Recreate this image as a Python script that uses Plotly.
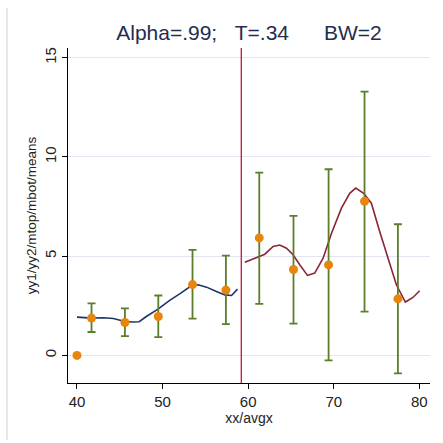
import plotly.graph_objects as go

# ---- data ----
xx1 = [40.0, 41.75, 43.1, 44.25, 45.6, 46.57, 47.27, 48.1, 49.47, 50.83, 52.0, 53.4, 54.16, 55.14, 56.3, 57.28, 58.06, 58.76]
yy1 = [1.93, 1.88, 1.90, 1.86, 1.71, 1.68, 1.70, 1.96, 2.33, 2.77, 3.10, 3.52, 3.56, 3.44, 3.22, 3.05, 3.02, 3.34]

xx2 = [59.61, 60.98, 61.95, 62.92, 63.7, 64.48, 65.25, 66.03, 66.93, 67.78, 68.76, 69.74, 70.9, 71.87, 72.57, 73.5, 74.4, 75.37, 76.34, 77.32, 78.37, 79.26, 80.04]
yy2 = [4.70, 4.93, 5.10, 5.49, 5.56, 5.40, 5.07, 4.57, 4.03, 4.15, 4.90, 6.16, 7.42, 8.17, 8.43, 8.17, 7.67, 6.24, 4.90, 3.56, 2.69, 2.92, 3.26]

avgx = [40.0, 41.7, 45.6, 49.5, 53.5, 57.4, 61.3, 65.3, 69.4, 73.6, 77.5]
means = [0.0, 1.88, 1.66, 1.96, 3.57, 3.29, 5.92, 4.33, 4.56, 7.77, 2.85]
# interval bounds for bins (all points except the first)
mtop = [2.62, 2.37, 3.02, 5.32, 5.03, 9.21, 7.03, 9.38, 13.29, 6.61]
mbot = [1.18, 0.97, 0.92, 1.85, 1.58, 2.60, 1.60, -0.25, 2.21, -0.91]

threshold = 59.2
title_text = "Alpha=.99;\u00a0\u00a0\u00a0T=.34\u00a0\u00a0\u00a0\u00a0\u00a0\u00a0BW=2"

# ---- figure ----
NAVY = "#1a3668"
MAROON = "#8b2535"
GREEN = "#5a7e2c"
ORANGE = "#e8850c"
FONT = "Liberation Sans, Arial, sans-serif"

xb = avgx[1:]
mb = means[1:]
plus = [t - m for t, m in zip(mtop, mb)]
minus = [m - b for m, b in zip(mb, mbot)]

fig = go.Figure()
fig.add_trace(go.Scatter(x=xx1, y=yy1, mode="lines", line=dict(color=NAVY, width=1.6), showlegend=False))
fig.add_trace(go.Scatter(x=xx2, y=yy2, mode="lines", line=dict(color=MAROON, width=1.6), showlegend=False))
fig.add_trace(go.Scatter(
    x=xb, y=mb, mode="markers",
    marker=dict(size=1, color="rgba(0,0,0,0)"),
    error_y=dict(type="data", symmetric=False, array=plus, arrayminus=minus,
                 color=GREEN, thickness=1.8, width=4),
    showlegend=False))
fig.add_trace(go.Scatter(x=avgx, y=means, mode="markers",
                         marker=dict(size=9, color=ORANGE), showlegend=False))

fig.add_shape(type="line", xref="x", yref="paper", x0=threshold, x1=threshold, y0=0, y1=1,
              line=dict(color="#d0103a", width=1.3))
# faint outer frame line on the left
fig.add_shape(type="line", xref="paper", yref="paper", x0=-0.1685, x1=-0.1685, y0=-0.17, y1=1.12,
              line=dict(color="#cfcfcf", width=1), layer="above")

fig.update_layout(
    width=443, height=443,
    margin=dict(l=68, r=13, t=48, b=60, autoexpand=False),
    paper_bgcolor="white", plot_bgcolor="white",
    font=dict(family=FONT, color="#222222", size=14),
    title=dict(text=title_text, x=0.5, xref="paper", xanchor="center",
               y=1 - 33 / 443, yref="container", yanchor="middle",
               font=dict(family=FONT, size=21, color="#1f2d50")),
    xaxis=dict(range=[38.95, 81.25], tickvals=[40, 50, 60, 70, 80], automargin=False,
               showgrid=False, zeroline=False, showline=True, linecolor="#000000", linewidth=1,
               ticks="outside", ticklen=5, tickcolor="#000000",
               tickfont=dict(size=15, color="#222222"),
               title=dict(text="xx/avgx", font=dict(size=14, color="#222222"), standoff=0)),
    yaxis=dict(range=[-1.39, 15.49], tickvals=[0, 5, 10, 15], tickangle=-90, automargin=False,
               showgrid=True, gridcolor="#e1e6f2", gridwidth=1, zeroline=False,
               showline=True, linecolor="#000000", linewidth=1,
               ticks="outside", ticklen=5, tickcolor="#000000",
               tickfont=dict(size=15, color="#222222"),
               title=dict(text="yy1/yy2/mtop/mbot/means", font=dict(size=13.5, color="#222222"), standoff=2)),
)

fig.write_html("out.html", config={"displayModeBar": False},
               post_script="document.body.style.margin='0px';")
